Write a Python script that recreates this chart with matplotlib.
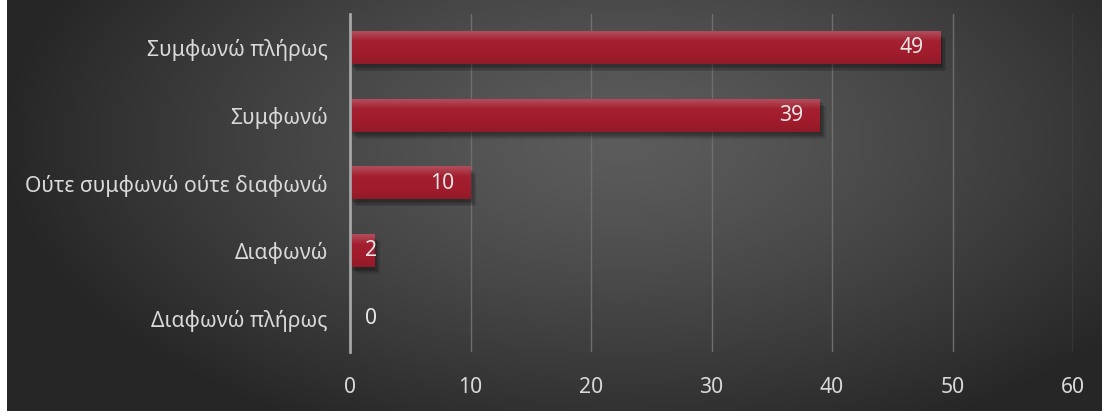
import numpy as np
import matplotlib.pyplot as plt
import matplotlib.patheffects as pe
from matplotlib.colors import LinearSegmentedColormap

plt.rcParams['font.family'] = ['Noto Sans', 'DejaVu Sans']

categories = ["Συμφωνώ πλήρως", "Συμφωνώ", "Ούτε συμφωνώ ούτε διαφωνώ",
              "Διαφωνώ", "Διαφωνώ πλήρως"]
values = [49, 39, 10, 2, 0]
xticks = [0, 10, 20, 30, 40, 50, 60]

W, H = 1102, 413
fig = plt.figure(figsize=(W / 100, H / 100), dpi=100, facecolor="white")

# dark radial background (small white strip left and bottom like the source)
bg = fig.add_axes([7 / W, 2 / H, 1 - 7 / W, 1 - 2 / H])
bg.set_axis_off()
gx, gy = np.meshgrid(np.linspace(7, W, 400), np.linspace(0, H, 200))
r = np.sqrt(((gx - 620) / 620) ** 2 + ((gy - 140) / 330) ** 2)
r = np.clip(r, 0, 1)
shade = 0.36 - 0.21 * r ** 1.3
bg.imshow(np.dstack([shade] * 3), aspect="auto", extent=(0, 1, 0, 1))
bg.set_xlim(0, 1)
bg.set_ylim(0, 1)

ax = fig.add_axes([350 / W, 61 / H, 723 / W, 338 / H])
ax.set_facecolor("none")

# soft shadow: a few faint offset copies
shadow = [pe.SimplePatchShadow(offset=(o, -o - 1), alpha=0.12, shadow_rgbFace="black")
          for o in (1, 2, 3, 4)]
ypos = np.arange(len(categories))
h = 0.48
bars = ax.barh(ypos, values, height=h, color="#a01c2c", zorder=3,
               path_effects=shadow + [pe.Normal()])

# vertical shading on each bar
cmap = LinearSegmentedColormap.from_list(
    "bar", [(0, "#b24d5b"), (0.3, "#a42030"), (0.7, "#a01c2c"), (1, "#921a28")])
grad = np.linspace(0, 1, 50).reshape(-1, 1)
for y, v in zip(ypos, values):
    if v > 0:
        ax.imshow(grad, cmap=cmap, aspect="auto", zorder=4,
                  extent=(0, v, y + h / 2, y - h / 2))

for y, v in zip(ypos, values):
    if v >= 5:
        ax.annotate(str(v), (v, y), xytext=(-12, 0), textcoords="offset points",
                    ha="right", va="center", color="#e6e6e6", fontsize=15.2, zorder=5)
    else:
        ax.annotate(str(v), (0, y), xytext=(11, 0), textcoords="offset points",
                    ha="left", va="center", color="#e6e6e6", fontsize=15.2, zorder=5)

ax.set_xlim(0, 60)
ax.set_ylim(len(categories) - 0.5, -0.5)
ax.set_xticks(xticks)
ax.set_yticks(ypos)
ax.set_yticklabels(categories)
ax.tick_params(axis="both", length=0, colors="#d9d9d9", labelsize=15.2)
ax.tick_params(axis="y", pad=16)
ax.tick_params(axis="x", pad=18)
ax.grid(axis="x", color="#6e6e6e", linewidth=1, zorder=1)
for s in ["top", "right", "bottom"]:
    ax.spines[s].set_visible(False)
ax.spines["left"].set_color("#a6a6a6")
ax.spines["left"].set_linewidth(2)
ax.spines["left"].set_zorder(6)

fig.savefig("out.png", dpi=100, facecolor="white")
